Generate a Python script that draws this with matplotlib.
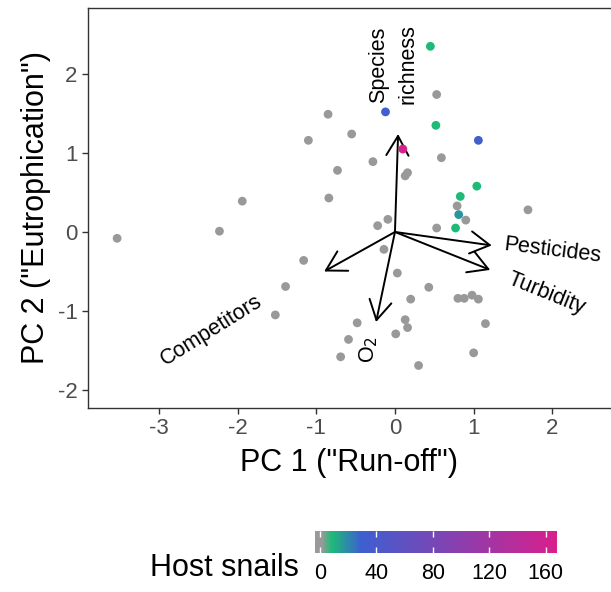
import numpy as np
import matplotlib
matplotlib.use('Agg')
import matplotlib.pyplot as plt
from matplotlib.colors import LinearSegmentedColormap, Normalize
from matplotlib.patches import ArrowStyle
import matplotlib.cm as cm

plt.rcParams['font.family'] = ['Liberation Sans', 'DejaVu Sans']
plt.rcParams['axes.unicode_minus'] = False

# site scores on the first two PCs
pc1 = [0.45, 0.53, -0.12, -0.85, 0.52, -0.55, -1.10, 1.06, 0.10, 0.59,
       -0.28, -0.73, 0.16, 0.13, 1.04, 0.83, -0.84, -1.94, 0.79, 1.69,
       0.81, 0.90, -0.09, -0.22, 0.53, 0.77, -2.23, -3.53, -0.14, -1.16,
       0.03, 0.43, -1.39, 0.80, 0.88, 0.98, 1.06, 0.20, -1.52, 1.15,
       -0.48, 0.13, 0.16, 0.01, -0.59, -0.69, 1.00, 0.30]
pc2 = [2.35, 1.74, 1.52, 1.49, 1.35, 1.24, 1.16, 1.16, 1.05, 0.94,
       0.89, 0.78, 0.75, 0.71, 0.58, 0.45, 0.43, 0.39, 0.33, 0.28,
       0.22, 0.15, 0.16, 0.08, 0.05, 0.05, 0.01, -0.08, -0.22, -0.36,
       -0.52, -0.70, -0.69, -0.84, -0.84, -0.80, -0.85, -0.85, -1.05, -1.16,
       -1.15, -1.11, -1.21, -1.29, -1.36, -1.58, -1.53, -1.69]
host_snails = [8, 0, 33, 0, 8, 0, 0, 33, 165, 0,
               0, 0, 0, 0, 8, 8, 0, 0, 0, 0,
               17, 0, 0, 0, 0, 8, 0, 0, 0, 0,
               0, 0, 0, 0, 0, 0, 0, 0, 0, 0,
               0, 0, 0, 0, 0, 0, 0, 0]

# loadings (arrows) and their labels
var_names = ['Species\nrichness', 'Pesticides', 'Turbidity', 'Competitors', 'O$_2$']
load_x = [0.04, 1.23, 1.21, -0.90, -0.24]
load_y = [1.24, -0.17, -0.48, -0.50, -1.14]
lab_x = [-0.02, 2.00, 1.93, -2.33, -0.33]
lab_y = [2.12, -0.23, -0.78, -1.25, -1.49]
lab_rot = [90, -7, -22, 32, 90]

cmap = LinearSegmentedColormap.from_list(
    'snails', [(0.0, '#999999'), (0.027, '#999999'), (0.067, '#1dbb78'),
               (0.19, '#3d5fd0'), (1.0, '#d81f8c')])
norm = Normalize(vmin=-3.5, vmax=168)

fig = plt.figure(figsize=(6.11, 5.92), dpi=100)
ax = fig.add_axes([88/611, 1 - 408/592, 1 - 88/611, 400/592])

for xe, ye in zip(load_x, load_y):
    ax.annotate('', xy=(xe, ye), xytext=(0, 0),
                arrowprops=dict(arrowstyle=ArrowStyle('->', head_length=0.7, head_width=0.4),
                                mutation_scale=20, color='black', lw=1.4,
                                shrinkA=0, shrinkB=0), zorder=2)

ax.scatter(pc1, pc2, c=host_snails, cmap=cmap, norm=norm, s=40,
           edgecolors='none', zorder=3)

for name, x, y, r in zip(var_names, lab_x, lab_y, lab_rot):
    ax.text(x, y, name, rotation=r, ha='center', va='center', fontsize=15.5,
            linespacing=1.55, rotation_mode='anchor', zorder=4)

ax.set_xlim(-3.90, 2.745)
ax.set_ylim(-2.228, 2.835)
ax.set_xticks([-3, -2, -1, 0, 1, 2])
ax.set_yticks([-2, -1, 0, 1, 2])
for s in ['left', 'bottom', 'top']:
    ax.spines[s].set_color('#333333')
    ax.spines[s].set_linewidth(1.0)
ax.spines['right'].set_visible(False)
ax.tick_params(length=4, width=1, color='#333333', labelcolor='#4d4d4d',
               labelsize=16)
ax.set_xlabel('PC 1 ("Run-off")', fontsize=22, labelpad=6)
ax.set_ylabel('PC 2 ("Eutrophication")', fontsize=22, labelpad=5)

# colour legend
cax = fig.add_axes([315/611, 1 - 553/592, 242/611, 22/592])
sm = cm.ScalarMappable(norm=norm, cmap=cmap)
cb = fig.colorbar(sm, cax=cax, orientation='horizontal', ticks=[0, 40, 80, 120, 160])
cb.outline.set_visible(False)
cax.tick_params(axis='x', direction='in', color='white', length=4, width=1,
                top=True, bottom=True, labelsize=15.5, pad=7)
fig.text(150/611, 1 - 576/592, 'Host snails', fontsize=22, ha='left', va='baseline')

fig.savefig('out.png', dpi=100)
